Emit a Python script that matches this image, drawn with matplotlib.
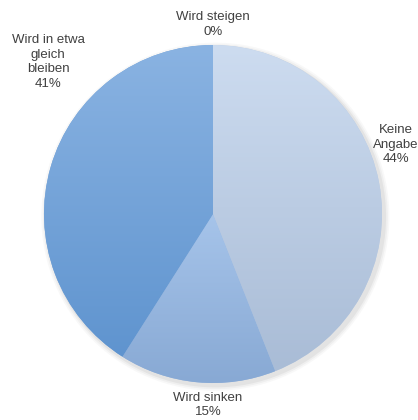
import numpy as np
import matplotlib.pyplot as plt
from matplotlib.colors import LinearSegmentedColormap
from matplotlib.patches import Circle

plt.rcParams['font.family'] = ['Liberation Sans', 'DejaVu Sans']

# survey answers, clockwise from 12 o'clock
categories = ['Wird steigen', 'Keine\nAngabe', 'Wird sinken', 'Wird in etwa\ngleich\nbleiben']
shares = [0, 44, 15, 41]
# top / bottom colours of each wedge's gradient
top_colors = ['#9fc0e8', '#cddcf0', '#a6c4ea', '#8ab3e2']
bottom_colors = ['#85a8d6', '#a9bcd6', '#88a9d4', '#5f94cf']
# where the labels sit (data units, pie radius = 1)
label_pos = [(0.0, 1.12), (1.08, 0.41), (-0.03, -1.13), (-0.975, 0.90)]

fig = plt.figure(figsize=(4.18, 4.20), dpi=100)
ax = fig.add_axes([0, 0, 1, 1])

# soft drop shadow under the pie
for i, a in enumerate([0.05, 0.07, 0.1]):
    ax.add_patch(Circle((0.014, -0.016), 1.0 + 0.01 * (3 - i), color='#808080',
                        alpha=a, lw=0, zorder=0))

mid_colors = [LinearSegmentedColormap.from_list('m', [a, b])(0.5)
              for a, b in zip(top_colors, bottom_colors)]
wedges, _ = ax.pie(shares, startangle=90, counterclock=False, radius=1.0,
                   colors=mid_colors, wedgeprops=dict(linewidth=0, zorder=1))

grad = np.linspace(0, 1, 256).reshape(-1, 1)
for w, c1, c2 in zip(wedges, top_colors, bottom_colors):
    if w.theta2 - w.theta1 <= 0:
        continue
    ext = w.get_path().get_extents()
    cmap = LinearSegmentedColormap.from_list('g', [c1, c2])
    im = ax.imshow(grad, cmap=cmap, aspect='auto', origin='upper',
                   extent=[ext.x0, ext.x1, ext.y0, ext.y1], zorder=2)
    im.set_clip_path(w)

for (x, y), cat, val in zip(label_pos, categories, shares):
    ax.text(x, y, f'{cat}\n{val}%', ha='center', va='center', fontsize=9.5,
            color='#404040', linespacing=1.3, zorder=5)

ax.set_xlim(-213 / 169, 205 / 169)
ax.set_ylim(-206 / 169, 214 / 169)
ax.set_aspect('equal')
ax.axis('off')

fig.savefig('out.png', dpi=100)
